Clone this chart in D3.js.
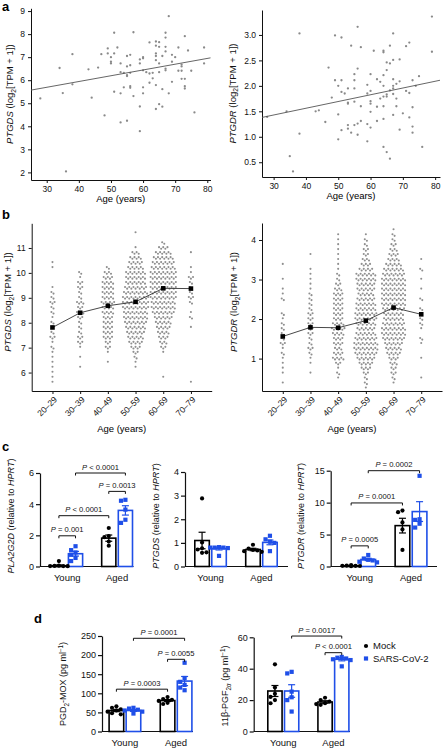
<!DOCTYPE html>
<html><head><meta charset="utf-8">
<script src="https://cdn.jsdelivr.net/npm/d3@7"></script>
<style>body{margin:0;background:#fff}svg{display:block}</style>
</head><body>
<script>
// ---------------- DATA ----------------
// Panel a (left): PTGDS vs age
const ageS = [28,34,35,38,38,36,43,44,46,47,48,49,49,50,50,50,51,51,51,52,53,53,53,53,54,54,55,55,55,55,55,56,56,56,56,56,57,57,59,59,59,59,60,60,60,60,60,61,62,62,62,63,63,64,64,64,64,64,64,64,65,65,65,65,65,66,66,66,67,67,67,67,67,67,68,68,69,69,69,70,71,71,72,72,72,72,73,73,73,73,74,75,76,79,79];
const valS = [5.21,6.53,5.44,7.13,5.82,2.04,6.47,5.24,6.55,7.13,4.47,7.38,7.16,7.0,6.8,6.73,8.06,7.16,5.5,7.42,6.73,6.35,5.43,4.17,6.32,5.69,7.05,6.6,6.22,6.18,4.24,7.1,6.65,6.32,5.74,5.67,8.08,5.31,6.9,6.73,4.86,3.79,7.0,6.95,6.43,5.69,5.43,6.35,7.64,6.29,5.89,6.32,6.08,7.68,7.5,7.16,7.05,6.87,5.79,4.75,7.65,7.45,6.73,6.35,4.96,7.05,5.61,4.85,8.06,7.85,7.45,7.25,6.5,6.43,8.78,5.43,7.1,6.8,5.93,7.0,7.42,6.41,6.68,6.6,6.41,6.06,7.91,6.06,5.74,5.64,7.29,6.41,4.6,7.42,6.73];
const fitAgeS = [25.1, 81];
const fitValS = [5.57, 6.97];
// Panel a (right): PTGDR vs age
const ageR = [28,34,35,36,38,38,43,44,46,47,48,49,49,50,50,50,51,51,51,51,52,53,53,53,53,53,54,54,55,55,55,55,55,56,56,56,56,57,57,57,59,59,59,59,60,60,60,60,60,60,61,62,62,62,63,63,64,64,64,64,64,64,64,64,65,65,65,65,65,66,66,66,66,67,67,67,67,67,67,67,68,68,68,69,69,69,70,71,71,72,72,72,73,73,73,73,74,75,76,79,79];
const valR = [1.39,1.5,0.62,0.32,3.03,1.06,1.5,1.52,1.29,2.36,1.77,2.99,2.11,2.0,1.44,0.95,2.95,2.11,1.88,1.13,1.85,1.95,1.67,1.65,1.23,1.16,2.79,1.08,2.23,2.11,1.95,1.69,1.23,3.16,2.34,1.26,1.04,2.76,1.6,1.31,2.02,1.85,1.25,0.91,2.23,1.9,1.7,1.65,1.49,1.18,2.69,2.13,1.59,1.31,2.08,1.75,2.69,2.66,2.21,2.0,1.79,1.6,1.35,0.8,2.46,2.31,1.83,1.79,0.7,2.79,2.44,1.91,0.57,3.03,2.51,2.13,2.0,1.95,1.84,1.43,2.04,1.75,1.6,2.52,2.09,1.14,1.46,2.78,1.9,2.85,1.86,1.38,2.11,1.58,1.2,1.08,2.0,2.19,0.8,3.36,2.67];
const fitAgeR = [26.4, 81.5];
const fitValR = [1.38, 2.11];

// Panel b: age groups, means and binned distributions (counts per bin)
const ageGroups = ["20–29","30–39","40–49","50–59","60–69","70–79"];
const ptgdsMeans = [7.81, 8.40, 8.68, 8.84, 9.38, 9.37];
const ptgdrMeans = [1.56, 1.79, 1.78, 1.96, 2.29, 2.12];
const ptgdsBinStart = 5.6, ptgdsBinStep = 0.2;
const ptgdsCounts = [
 [1,1,1,1,1,1,1,2,1,3,2,1,2,1,2,2,3,2,2,1,0,0,0,1,1,0,0,0,0,0,0],
 [0,0,0,1,0,1,0,1,3,3,2,2,2,3,4,3,4,2,2,3,3,1,2,0,0,0,0,0,0,0,0],
 [0,0,0,0,1,0,1,3,3,5,5,5,5,5,6,6,7,6,6,6,6,5,4,2,0,0,0,0,0,0,0],
 [0,0,0,1,1,2,3,5,7,8,9,10,11,12,12,13,13,13,12,11,10,10,10,8,7,6,4,1,0,0,1],
 [0,1,0,0,0,0,1,3,4,5,6,7,8,9,11,12,12,13,13,13,13,13,13,12,11,10,8,5,2,0,0],
 [1,0,0,0,0,0,0,0,0,0,0,1,0,2,1,0,2,3,2,2,2,3,1,1,0,0,1,0,0,0,0]
];
const ptgdrBinStart = 0.25, ptgdrBinStep = 0.125;
const ptgdrCounts = [
 [0,1,0,1,1,1,1,2,1,3,2,2,2,2,1,2,0,0,2,1,1,0,1,0,0,1,0,0,0,0,0,0,0],
 [0,0,0,1,0,1,1,2,3,2,2,3,3,3,3,3,2,2,2,2,1,1,1,1,1,0,0,1,0,0,0,0,0],
 [0,0,1,2,1,3,6,5,4,5,5,6,7,6,5,5,5,5,5,5,4,3,2,2,1,1,1,1,1,1,1,1,0],
 [1,2,2,3,5,7,9,11,12,12,11,10,9,10,11,11,10,10,9,8,9,9,10,10,7,5,4,3,3,2,2,1,0],
 [0,1,2,3,3,4,5,7,8,9,11,12,12,11,10,10,11,12,12,12,12,12,12,11,10,8,6,5,4,3,2,2,1],
 [0,0,1,0,0,0,1,0,0,1,2,0,1,2,2,1,2,0,2,0,1,0,1,0,2,0,1,0,0,0,0,0,0]
];

// Panels c, d: groups × conditions; order = Young-Mock, Young-SARS, Aged-Mock, Aged-SARS
const barGroups = ["Young","Aged"];
const conditions = ["Mock","SARS-CoV-2"];
const pla2g2dMean = [0.05, 0.82, 1.82, 3.6];
const pla2g2dSem  = [0.05, 0.15, 0.2, 0.3];
const pla2g2dPts  = [[0.35,0.05,0.04,0.03,0.02,0.03],[1.3,1.05,0.9,0.75,0.55,0.35],[2.47,1.95,1.88,1.6,1.33],[4.28,4.22,3.65,3.0,2.8]];
const ptgdsRelMean = [1.1, 0.76, 0.72, 1.02];
const ptgdsRelSem  = [0.35, 0.06, 0.05, 0.1];
const ptgdsRelPts  = [[2.88,1.02,0.77,0.72,0.58,0.6],[0.82,0.8,0.8,0.78,0.8,0.45],[0.92,0.76,0.7,0.68,0.65,0.62],[1.3,1.15,1.05,1.0,0.65]];
const ptgdrRelMean = [0.12, 1.1, 6.4, 8.6];
const ptgdrRelSem  = [0.03, 0.18, 1.15, 1.55];
const ptgdrRelPts  = [[0.2,0.15,0.1,0.1,0.08,0.05],[1.8,1.25,1.05,0.95,0.75,0.65],[8.75,8.5,6.9,5.8,2.6],[14.2,7.4,7.3,6.7,6.1]];
const pgd2Mean = [55, 55, 81, 132];
const pgd2Sem  = [3, 2.5, 2.5, 12];
const pgd2Pts  = [[66,62,58,55,52,48,45],[62,60,57,55,52,47],[90,85,83,80,75,72],[180,140,130,122,115,108]];
const pgfMean = [25.8, 25.8, 18.8, 46];
const pgfSem  = [3.5, 4.0, 0.8, 1.0];
const pgfPts  = [[42.8,28,24,22,20,18],[38,37,25.4,21.8,20,12.7],[21.5,20,19,18,17.5,17],[47.5,47,46.5,46,45.5,41.5]];

// ---------------- DRAWING ----------------
const FONT = "'Liberation Sans', Arial, sans-serif";
const BLUE = "#1f4fe8";
const svg = d3.select("body").append("svg").attr("width",443).attr("height",750)
  .style("font-family",FONT);

function rich(sel, parts, size){
  let shift = 0;
  parts.forEach(p=>{
    const ts = sel.append("tspan").text(p.t);
    if(p.i) ts.attr("font-style","italic");
    const target = p.sub ? size*0.3 : (p.sup ? -size*0.38 : 0);
    if(target !== shift){ ts.attr("dy", target - shift); shift = target; }
    if(p.sub || p.sup) ts.attr("font-size", size*0.7);
  });
}
function yLabel(x, y, parts, size){
  const t = svg.append("text").attr("transform",`translate(${x},${y}) rotate(-90)`)
    .attr("text-anchor","middle").attr("font-size",size).attr("fill","#111");
  rich(t, parts, size);
}
function letter(ch, x, y){
  svg.append("text").attr("x",x).attr("y",y).attr("font-size",13).attr("font-weight","bold").text(ch);
}
function styleAxis(g, fs){
  g.selectAll("text").attr("font-size",fs).attr("fill","#111").style("font-family",FONT);
  g.selectAll("line,path").attr("stroke","#111");
}

// ---- scatter panels (a)
function scatter(o){
  const x = d3.scaleLinear().domain(o.xDom).range([o.x0,o.x1]);
  const y = d3.scaleLinear().domain(o.yDom).range([o.yBot,o.yTop]);
  const gx = svg.append("g").attr("transform",`translate(0,${o.yBot})`)
    .call(d3.axisBottom(x).tickValues([30,40,50,60,70,80]).tickFormat(d3.format("d")).tickSize(3).tickSizeOuter(0).tickPadding(3));
  styleAxis(gx, 8.5);
  const gy = svg.append("g").attr("transform",`translate(${o.x0},0)`)
    .call(d3.axisLeft(y).tickValues(o.yTicks).tickFormat(o.fmt).tickSize(3).tickSizeOuter(0).tickPadding(3));
  styleAxis(gy, 8.5);
  svg.append("g").selectAll("circle").data(o.ages).join("circle")
    .attr("cx",(d)=>x(d)).attr("cy",(d,i)=>y(o.vals[i])).attr("r",1.15).attr("fill","#8a8a8a");
  svg.append("path").datum(o.fitX.map((a,i)=>[a,o.fitY[i]]))
    .attr("d", d3.line().x(d=>x(d[0])).y(d=>y(d[1])))
    .attr("stroke","#555").attr("stroke-width",0.9).attr("fill","none");
  svg.append("text").attr("x",(o.x0+o.x1)/2).attr("y",o.yBot+22).attr("text-anchor","middle")
    .attr("font-size",9.5).text("Age (years)");
  yLabel(o.labX, (o.yTop+o.yBot)/2, o.label, 9.5);
}
scatter({x0:31,x1:210.5,yTop:8.3,yBot:180,xDom:[25.1,81],yDom:[1.67,9.12],
  yTicks:[2,3,4,5,6,7,8,9],fmt:d3.format("d"),ages:ageS,vals:valS,fitX:fitAgeS,fitY:fitValS,
  labX:13,label:[{t:"PTGDS",i:true},{t:" (log"},{t:"2",sub:true},{t:"[TPM + 1])"}]});
scatter({x0:262,x1:440,yTop:10,yBot:177,xDom:[26.4,81.5],yDom:[0.21,3.49],
  yTicks:[0.5,1,1.5,2,2.5,3],fmt:d3.format(".1f"),ages:ageR,vals:valR,fitX:fitAgeR,fitY:fitValR,
  labX:235.5,label:[{t:"PTGDR",i:true},{t:" (log"},{t:"2",sub:true},{t:"[TPM + 1])"}]});
letter("a",2,11);

// ---- beeswarm panels (b)
function swarm(o){
  const x = d3.scalePoint().domain(ageGroups).range([o.x0,o.x1]).padding(0.75);
  const y = d3.scaleLinear().domain(o.yDom).range([o.yBot,o.yTop]);
  const gx = svg.append("g").attr("transform",`translate(0,${o.yBot})`)
    .call(d3.axisBottom(x).tickSize(3).tickSizeOuter(0).tickFormat(""));
  styleAxis(gx, 8.5);
  svg.append("g").selectAll("text").data(ageGroups).join("text")
    .attr("transform",d=>`translate(${x(d)+3},${o.yBot+7}) rotate(-45)`)
    .attr("text-anchor","end").attr("dy","0.35em").attr("font-size",8.5).attr("fill","#111").text(d=>d);
  const gy = svg.append("g").attr("transform",`translate(${o.x0},0)`)
    .call(d3.axisLeft(y).tickValues(o.yTicks).tickFormat(d3.format("d")).tickSize(3).tickSizeOuter(0).tickPadding(3));
  styleAxis(gy, 8.5);
  const pts = [];
  o.counts.forEach((arr,gi)=>{
    arr.forEach((n,bi)=>{
      const v = o.binStart + bi*o.binStep;
      for(let j=0;j<n;j++) pts.push({cx: x(ageGroups[gi]) + (j-(n-1)/2)*2.1, cy: y(v) + (j%2 ? 0.8 : -0.8)});
    });
  });
  svg.append("g").selectAll("circle").data(pts).join("circle")
    .attr("cx",d=>d.cx).attr("cy",d=>d.cy).attr("r",1.05).attr("fill","#8f8f8f");
  svg.append("path").datum(o.means)
    .attr("d", d3.line().x((d,i)=>x(ageGroups[i])).y(d=>y(d)))
    .attr("stroke","#333").attr("stroke-width",0.9).attr("fill","none");
  svg.append("g").selectAll("rect").data(o.means).join("rect")
    .attr("x",(d,i)=>x(ageGroups[i])-2.3).attr("y",d=>y(d)-2.3).attr("width",4.6).attr("height",4.6).attr("fill","#000");
  svg.append("text").attr("x",(o.x0+o.x1)/2).attr("y",432).attr("text-anchor","middle")
    .attr("font-size",9.5).text("Age (years)");
  yLabel(o.labX, 302, o.label, 9.5);
}
swarm({x0:31.7,x1:211.7,yTop:223.3,yBot:391,yDom:[5.26,11.99],yTicks:[6,7,8,9,10,11],
  counts:ptgdsCounts,binStart:ptgdsBinStart,binStep:ptgdsBinStep,means:ptgdsMeans,labX:11,
  label:[{t:"PTGDS",i:true},{t:" (log"},{t:"2",sub:true},{t:"[TPM + 1])"}]});
swarm({x0:262,x1:442,yTop:223,yBot:391,yDom:[0.18,4.43],yTicks:[1,2,3,4],
  counts:ptgdrCounts,binStart:ptgdrBinStart,binStep:ptgdrBinStep,means:ptgdrMeans,labX:237,
  label:[{t:"PTGDR",i:true},{t:" (log"},{t:"2",sub:true},{t:"[TPM + 1])"}]});
letter("b",2,219);

// ---- bar panels (c, d)
function bars(o){
  const y = d3.scaleLinear().domain(o.yDom).range([o.yBot,o.yTop]);
  const gx = d3.scaleBand().domain(barGroups).range([o.barL,o.barR]).paddingInner(0.35);
  const sx = d3.scaleBand().domain(conditions).range([0,gx.bandwidth()]).paddingInner(0.05);
  const bw = sx.bandwidth();
  const keys = [];
  barGroups.forEach(g=>conditions.forEach(c=>keys.push({g,c})));
  const left = k => gx(k.g)+sx(k.c);
  const cx = i => left(keys[i]) + bw/2;
  const col = i => keys[i].c==="Mock" ? "#000" : BLUE;
  // axes
  svg.append("line").attr("x1",o.x0).attr("x2",o.x1).attr("y1",o.yBot).attr("y2",o.yBot)
    .attr("stroke","#111").attr("stroke-width",1.2);
  const gy = svg.append("g").attr("transform",`translate(${o.x0},0)`)
    .call(d3.axisLeft(y).tickValues(o.yTicks).tickFormat(d3.format("d")).tickSize(4).tickSizeOuter(0).tickPadding(2));
  styleAxis(gy, 9);
  gy.selectAll("line,path").attr("stroke-width",1.2);
  // bars
  svg.append("g").selectAll("rect").data(o.means).join("rect")
    .attr("x",(d,i)=>left(keys[i])+0.8).attr("width",bw-1.6)
    .attr("y",d=>y(d)).attr("height",d=>o.yBot-y(d))
    .attr("fill","#fff").attr("stroke",(d,i)=>col(i)).attr("stroke-width",1.6);
  // points
  o.pts.forEach((arr,i)=>{
    const placed = [];
    const offs = [0,-4.4,4.4,-8.8,8.8,-2.2,2.2,-6.6,6.6];
    arr.slice().sort((a,b)=>b-a).forEach(v=>{
      const py = y(v);
      let off = offs.find(of=>!placed.some(p=>Math.abs(p.x-of)<4.2 && Math.abs(p.y-py)<4.2));
      if(off===undefined) off = 0;
      placed.push({x:off,y:py});
      if(keys[i].c==="Mock"){
        svg.append("circle").attr("cx",cx(i)+off).attr("cy",py).attr("r",2.1).attr("fill","#000");
      } else {
        svg.append("rect").attr("x",cx(i)+off-2.1).attr("y",py-2.1).attr("width",4.2).attr("height",4.2).attr("fill",BLUE);
      }
    });
  });
  // error bars
  o.means.forEach((m,i)=>{
    const g = svg.append("g").attr("stroke",col(i)).attr("stroke-width",1.2);
    const x = cx(i), t = y(m+o.sems[i]), b = y(Math.max(0,m-o.sems[i]));
    g.append("line").attr("x1",x).attr("x2",x).attr("y1",t).attr("y2",b);
    g.append("line").attr("x1",x-3.5).attr("x2",x+3.5).attr("y1",t).attr("y2",t);
    g.append("line").attr("x1",x-3.5).attr("x2",x+3.5).attr("y1",b).attr("y2",b);
  });
  // brackets
  o.brackets.forEach(br=>{
    const yy = y(br.level), xa = cx(br.from), xb = cx(br.to);
    svg.append("path").attr("d",`M${xa},${yy+2.5}V${yy}H${xb}V${yy+2.5}`)
      .attr("fill","none").attr("stroke","#111").attr("stroke-width",1);
    const t = svg.append("text").attr("x",(xa+xb)/2).attr("y",yy-3.5).attr("text-anchor","middle")
      .attr("font-size",7.6).attr("fill","#111");
    t.append("tspan").attr("font-style","italic").text("P");
    t.append("tspan").text(br.label);
  });
  // group labels
  svg.append("g").selectAll("text").data(barGroups).join("text")
    .attr("x",g=>gx(g)+gx.bandwidth()/2).attr("y",o.yBot+14.5).attr("text-anchor","middle")
    .attr("font-size",9.5).attr("fill","#111").text(g=>g);
  yLabel(o.labX, o.labY, o.label, o.labSize||9);
}
const HPRT = [{t:" (relative to "},{t:"HPRT",i:true},{t:")"}];
bars({x0:40,x1:133.5,barL:51,barR:133.3,yTop:473,yBot:566.5,yDom:[0,6],yTicks:[0,2,4,6],
  means:pla2g2dMean,sems:pla2g2dSem,pts:pla2g2dPts,labX:14,labY:516,
  label:[{t:"PLA2G2D",i:true}].concat(HPRT),
  brackets:[{from:0,to:1,level:1.97,label:" = 0.001"},{from:0,to:2,level:3.26,label:" < 0.0001"},
            {from:2,to:3,level:4.82,label:" = 0.0013"},{from:1,to:3,level:6.0,label:" < 0.0001"}]});
bars({x0:185,x1:288,barL:194,barR:278,yTop:472,yBot:566.5,yDom:[0,4],yTicks:[0,1,2,3,4],
  means:ptgdsRelMean,sems:ptgdsRelSem,pts:ptgdsRelPts,labX:159,labY:516,
  label:[{t:"PTGDS",i:true}].concat(HPRT),brackets:[]});
bars({x0:330.7,x1:437,barL:343,barR:427.7,yTop:470.7,yBot:566.5,yDom:[0,15],yTicks:[0,5,10,15],
  means:ptgdrRelMean,sems:ptgdrRelSem,pts:ptgdrRelPts,labX:304,labY:516,
  label:[{t:"PTGDR",i:true}].concat(HPRT),
  brackets:[{from:0,to:1,level:3.23,label:" = 0.0005"},{from:0,to:2,level:9.95,label:" = 0.0001"},
            {from:1,to:3,level:15,label:" = 0.0002"}]});
letter("c",2,451);

bars({x0:102,x1:193,barL:108.3,barR:192.7,yTop:636,yBot:731.5,yDom:[0,250],yTicks:[0,50,100,150,200,250],
  means:pgd2Mean,sems:pgd2Sem,pts:pgd2Pts,labX:66,labY:684,labSize:9,
  label:[{t:"PGD"},{t:"2",sub:true},{t:"-MOX (pg ml"},{t:"−1",sup:true},{t:")"}],
  brackets:[{from:0,to:2,level:110.8,label:" = 0.0003"},{from:2,to:3,level:189,label:" = 0.0055"},
            {from:1,to:3,level:244,label:" = 0.0001"}]});
bars({x0:253.7,x1:350,barL:267,barR:349.7,yTop:637.3,yBot:731.5,yDom:[0,60],yTicks:[0,20,40,60],
  means:pgfMean,sems:pgfSem,pts:pgfPts,labX:228,labY:686,labSize:9,
  label:[{t:"11β-PGF"},{t:"2α",sub:true},{t:" (pg ml"},{t:"−1",sup:true},{t:")"}],
  brackets:[{from:1,to:3,level:60.8,label:" = 0.0017"},{from:2,to:3,level:50.2,label:" < 0.0001"}]});
letter("d",34,623);

// legend
const lg = svg.append("g");
conditions.forEach((c,i)=>{
  const yy = 646 + i*12.5;
  if(c==="Mock") lg.append("circle").attr("cx",366).attr("cy",yy).attr("r",2.1).attr("fill","#000");
  else lg.append("rect").attr("x",363.9).attr("y",yy-2.1).attr("width",4.2).attr("height",4.2).attr("fill",BLUE);
  lg.append("text").attr("x",373).attr("y",yy).attr("dy","0.35em").attr("font-size",9.5).attr("fill","#111").text(c);
});
</script>
</body></html>
